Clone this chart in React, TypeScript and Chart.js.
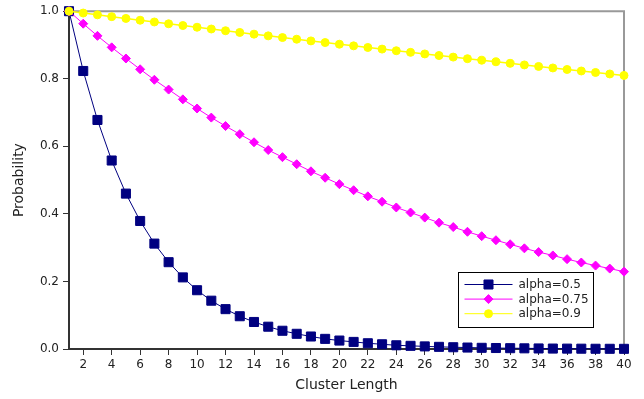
import React, { useEffect, useRef } from 'react';
import { Chart, registerables } from 'chart.js';

Chart.register(...registerables);

const clusterLengths = [
  1, 2, 3, 4, 5, 6, 7, 8, 9, 10, 11, 12, 13, 14, 15, 16, 17, 18, 19, 20,
  21, 22, 23, 24, 25, 26, 27, 28, 29, 30, 31, 32, 33, 34, 35, 36, 37, 38, 39, 40,
];

const alpha05 = [
  1.0, 0.823, 0.678, 0.558, 0.46, 0.379, 0.312, 0.257, 0.212, 0.174,
  0.143, 0.118, 0.097, 0.08, 0.066, 0.054, 0.045, 0.037, 0.03, 0.025,
  0.021, 0.017, 0.014, 0.011, 0.0094, 0.0077, 0.0064, 0.0052, 0.0043, 0.0035,
  0.0029, 0.0024, 0.002, 0.0016, 0.0013, 0.0011, 0.0009, 0.0007, 0.0006, 0.0005,
];

const alpha075 = [
  1.0, 0.963, 0.927, 0.893, 0.86, 0.828, 0.797, 0.768, 0.739, 0.712,
  0.685, 0.66, 0.636, 0.612, 0.589, 0.568, 0.547, 0.526, 0.507, 0.488,
  0.47, 0.452, 0.436, 0.419, 0.404, 0.389, 0.374, 0.361, 0.347, 0.334,
  0.322, 0.31, 0.298, 0.287, 0.277, 0.266, 0.256, 0.247, 0.238, 0.229,
];

const alpha09 = [
  1.0, 0.9946, 0.9892, 0.9839, 0.9786, 0.9733, 0.9681, 0.9628, 0.9576, 0.9525,
  0.9473, 0.9422, 0.9371, 0.9321, 0.927, 0.922, 0.9171, 0.9121, 0.9072, 0.9023,
  0.8974, 0.8926, 0.8878, 0.883, 0.8782, 0.8735, 0.8688, 0.8641, 0.8594, 0.8548,
  0.8502, 0.8456, 0.841, 0.8365, 0.832, 0.8275, 0.823, 0.8186, 0.8142, 0.8098,
];

const seriesLabels = ['alpha=0.5', 'alpha=0.75', 'alpha=0.9'];
const xTickValues = [2, 4, 6, 8, 10, 12, 14, 16, 18, 20, 22, 24, 26, 28, 30, 32, 34, 36, 38, 40];
const xAxisTitle = 'Cluster Length';
const yAxisTitle = 'Probability';

const FONT = "'DejaVu Sans', sans-serif";

function drawMarker(ctx: CanvasRenderingContext2D, style: string, x: number, y: number, r: number, color: string) {
  ctx.save();
  ctx.fillStyle = color;
  ctx.strokeStyle = color;
  ctx.lineWidth = 1;
  ctx.beginPath();
  if (style === 'rect') {
    const s = Math.SQRT1_2 * r;
    ctx.rect(x - s, y - s, 2 * s, 2 * s);
  } else if (style === 'rectRot') {
    ctx.moveTo(x - r, y);
    ctx.lineTo(x, y - r);
    ctx.lineTo(x + r, y);
    ctx.lineTo(x, y + r);
    ctx.closePath();
  } else {
    ctx.arc(x, y, r, 0, Math.PI * 2);
  }
  ctx.fill();
  ctx.stroke();
  ctx.restore();
}

const framePlugin = {
  id: 'frame',
  beforeDatasetsDraw(chart: any) {
    const { ctx, chartArea } = chart;
    ctx.save();
    ctx.strokeStyle = '#999999';
    ctx.lineWidth = 2;
    ctx.beginPath();
    ctx.moveTo(chartArea.left, chartArea.top);
    ctx.lineTo(chartArea.right, chartArea.top);
    ctx.lineTo(chartArea.right, chartArea.bottom);
    ctx.stroke();
    ctx.restore();
  },
};

const legendPlugin = {
  id: 'boxLegend',
  afterDraw(chart: any) {
    const { ctx } = chart;
    const bx = 458.5;
    const by = 272.5;
    const bw = 135;
    const bh = 55;
    ctx.save();
    ctx.fillStyle = '#ffffff';
    ctx.fillRect(bx, by, bw, bh);
    ctx.strokeStyle = '#000000';
    ctx.lineWidth = 1;
    ctx.strokeRect(bx, by, bw, bh);
    ctx.font = `12px ${FONT}`;
    ctx.textBaseline = 'middle';
    ctx.textAlign = 'left';
    chart.data.datasets.forEach((ds: any, i: number) => {
      const y = by + 12 + i * 14.6;
      ctx.strokeStyle = ds.borderColor;
      ctx.lineWidth = 1;
      ctx.beginPath();
      ctx.moveTo(bx + 6, y);
      ctx.lineTo(bx + 54, y);
      ctx.stroke();
      drawMarker(ctx, ds.pointStyle, bx + 30, y, ds.pointRadius, ds.pointBackgroundColor);
      ctx.fillStyle = '#222222';
      ctx.fillText(ds.label, bx + 60, y + 0.5);
    });
    ctx.restore();
  },
};

export default function App() {
  const canvasRef = useRef<HTMLCanvasElement | null>(null);

  useEffect(() => {
    const canvas = canvasRef.current;
    if (!canvas) return;
    const mk = (vals: number[]) => clusterLengths.map((x, i) => ({ x, y: vals[i] }));
    const chart = new Chart(canvas, {
      type: 'line',
      data: {
        datasets: [
          {
            label: seriesLabels[0],
            data: mk(alpha05),
            borderColor: '#000080',
            backgroundColor: '#000080',
            borderWidth: 1,
            pointStyle: 'rect',
            pointRadius: 6.4,
            pointBackgroundColor: '#000080',
            pointBorderColor: '#000080',
            pointBorderWidth: 1,
            clip: false,
            order: 2,
          },
          {
            label: seriesLabels[1],
            data: mk(alpha075),
            borderColor: '#ff00ff',
            backgroundColor: '#ff00ff',
            borderWidth: 1,
            pointStyle: 'rectRot',
            pointRadius: 4.5,
            pointBackgroundColor: '#ff00ff',
            pointBorderColor: '#ff00ff',
            pointBorderWidth: 1,
            clip: false,
            order: 1,
          },
          {
            label: seriesLabels[2],
            data: mk(alpha09),
            borderColor: '#ffff00',
            backgroundColor: '#ffff00',
            borderWidth: 1.5,
            pointStyle: 'circle',
            pointRadius: 4,
            pointBackgroundColor: '#ffff00',
            pointBorderColor: '#ffff00',
            pointBorderWidth: 1,
            clip: false,
            order: 0,
          },
        ] as any,
      },
      options: {
        responsive: false,
        animation: false,
        events: [],
        layout: { padding: { top: 10, right: 20, left: 0, bottom: 0 } },
        plugins: {
          legend: { display: false },
          tooltip: { enabled: false },
        },
        scales: {
          x: {
            type: 'linear',
            min: 1,
            max: 40,
            afterBuildTicks: (scale: any) => {
              scale.ticks = xTickValues.map((v) => ({ value: v }));
            },
            afterFit: (scale: any) => {
              scale.height = 50;
            },
            grid: {
              display: true,
              drawOnChartArea: false,
              drawTicks: true,
              tickLength: 6,
              tickColor: '#333333',
              tickWidth: 1,
            },
            border: { display: true, color: '#333333', width: 2 },
            ticks: {
              color: '#222222',
              font: { family: FONT, size: 12 },
              padding: 3,
              maxRotation: 0,
              autoSkip: false,
              callback: (v: any) => String(v),
            },
            title: {
              display: true,
              text: xAxisTitle,
              color: '#222222',
              font: { family: FONT, size: 14 },
              padding: { top: 0, bottom: 5 },
            },
          },
          y: {
            type: 'linear',
            min: 0,
            max: 1,
            afterFit: (scale: any) => {
              scale.width = 69;
            },
            grid: {
              display: true,
              drawOnChartArea: false,
              drawTicks: true,
              tickLength: 6,
              tickColor: '#333333',
              tickWidth: 1,
            },
            border: { display: true, color: '#333333', width: 2 },
            ticks: {
              stepSize: 0.2,
              color: '#222222',
              font: { family: FONT, size: 12 },
              padding: 4,
              callback: (v: any) => Number(v).toFixed(1),
            },
            title: {
              display: true,
              text: yAxisTitle,
              color: '#222222',
              font: { family: FONT, size: 14 },
              padding: { top: 11, bottom: 0 },
            },
          },
        },
      },
      plugins: [framePlugin, legendPlugin],
    } as any);
    return () => chart.destroy();
  }, []);

  return (
    <div style={{ position: 'absolute', left: 0, top: 0, width: 644, height: 399, background: '#ffffff' }}>
      <canvas ref={canvasRef} width={644} height={399} />
    </div>
  );
}
